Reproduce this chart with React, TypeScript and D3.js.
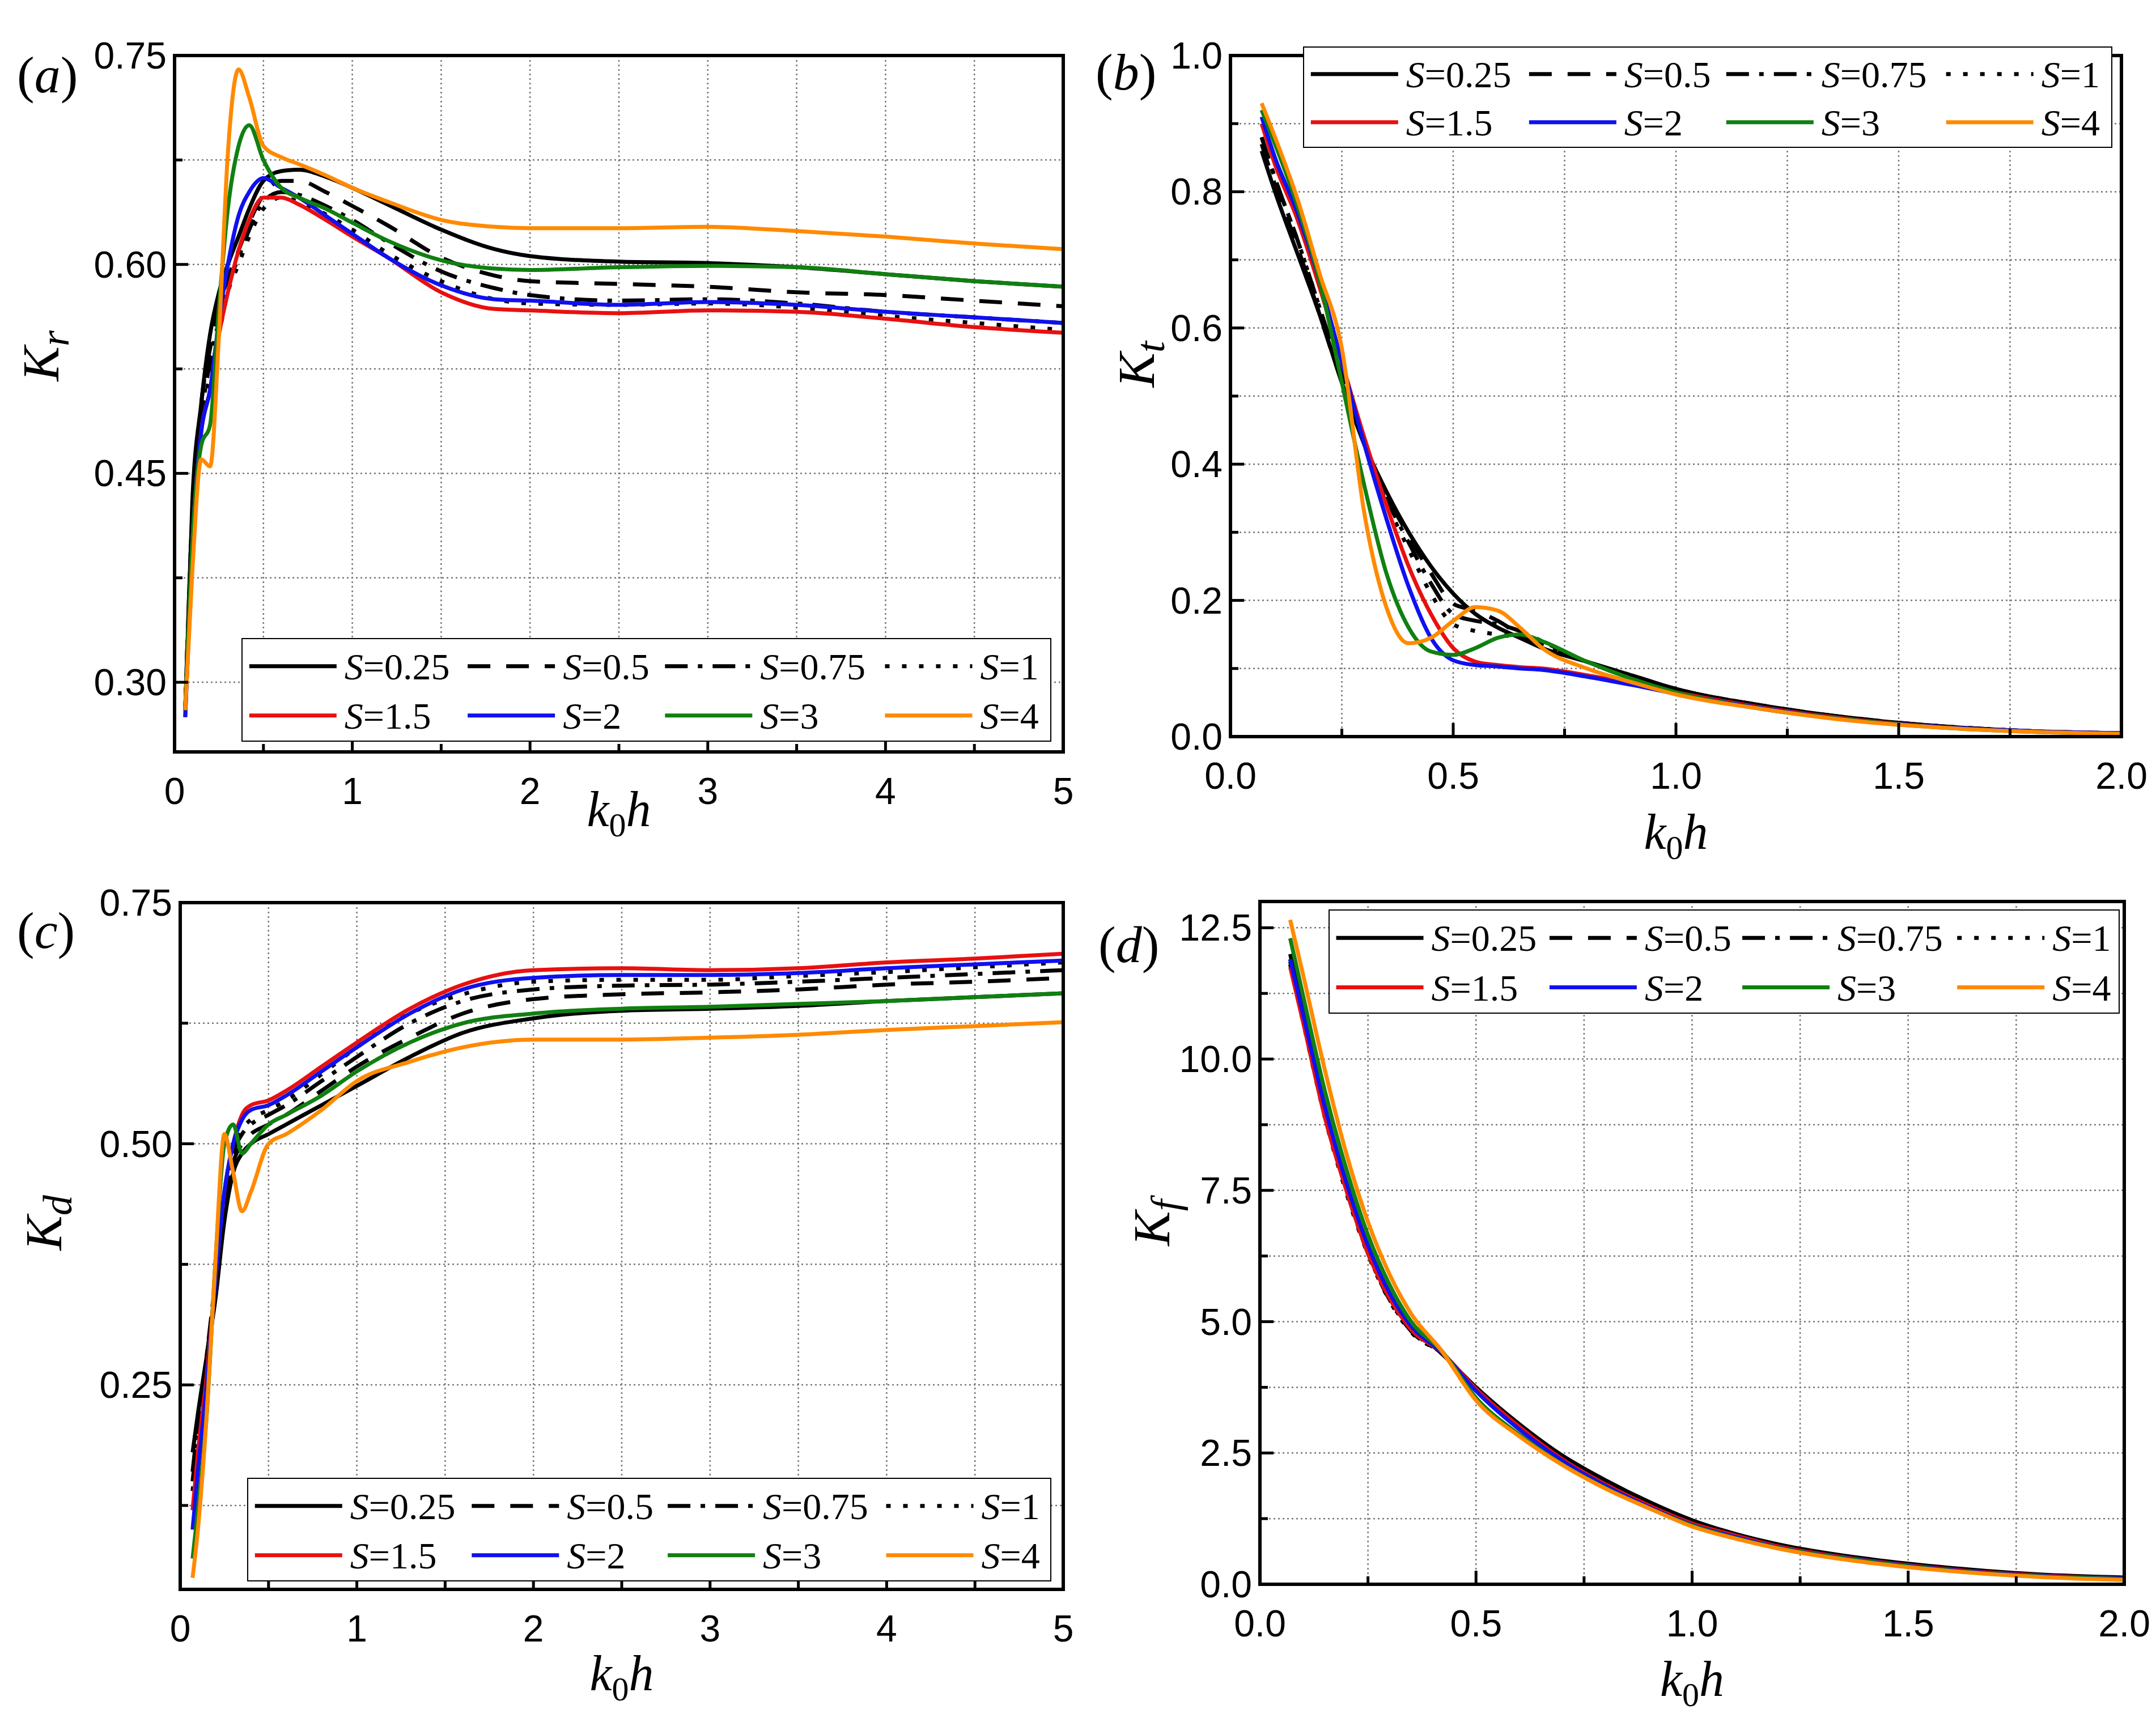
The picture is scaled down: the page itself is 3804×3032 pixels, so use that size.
import React from "react";
import * as d3 from "d3";

const labels = ["0.25", "0.5", "0.75", "1", "1.5", "2", "3", "4"];
const colors = ["#000", "#000", "#000", "#000", "#e81010", "#1010f0", "#108010", "#ff8a00"];
const dashes = ["none", "40,28", "40,18,8,18", "8,22", "none", "none", "none", "none"];

const xA = [0.06,0.1,0.15,0.2,0.25,0.3,0.36,0.42,0.5,0.6,0.7,0.85,1,1.2,1.5,1.8,2,2.5,3,3.5,4,4.5,5];
const yA = [
  [0.28,0.43,0.50,0.55,0.58,0.60,0.62,0.64,0.66,0.667,0.668,0.663,0.655,0.643,0.625,0.611,0.606,0.602,0.601,0.598,0.593,0.588,0.584],
  [0.28,0.42,0.50,0.54,0.57,0.59,0.61,0.63,0.65,0.66,0.66,0.652,0.642,0.628,0.605,0.592,0.588,0.586,0.584,0.58,0.578,0.574,0.57],
  [0.28,0.42,0.49,0.53,0.56,0.585,0.605,0.625,0.645,0.652,0.65,0.642,0.632,0.616,0.595,0.583,0.578,0.574,0.575,0.572,0.566,0.562,0.558],
  [0.28,0.41,0.49,0.52,0.55,0.58,0.60,0.62,0.64,0.648,0.645,0.636,0.625,0.608,0.588,0.575,0.572,0.571,0.572,0.569,0.563,0.558,0.553],
  [0.275,0.40,0.48,0.51,0.55,0.58,0.61,0.632,0.648,0.648,0.643,0.632,0.62,0.605,0.58,0.568,0.567,0.565,0.567,0.566,0.561,0.555,0.551],
  [0.275,0.40,0.48,0.51,0.56,0.60,0.635,0.652,0.662,0.655,0.648,0.635,0.622,0.605,0.585,0.575,0.574,0.571,0.573,0.571,0.566,0.562,0.558],
  [0.28,0.40,0.47,0.485,0.57,0.64,0.685,0.70,0.675,0.655,0.648,0.64,0.63,0.617,0.603,0.597,0.596,0.598,0.599,0.598,0.593,0.588,0.584],
  [0.28,0.38,0.46,0.455,0.55,0.68,0.74,0.72,0.685,0.677,0.672,0.664,0.655,0.645,0.632,0.627,0.626,0.626,0.627,0.624,0.62,0.615,0.611],
];

const xB = [0.07,0.1,0.15,0.2,0.25,0.3,0.35,0.4,0.45,0.5,0.55,0.6,0.65,0.7,0.8,0.9,1.0,1.2,1.4,1.6,1.8,2.0];
const yB = [
  [0.86,0.80,0.71,0.62,0.52,0.43,0.36,0.30,0.25,0.21,0.18,0.16,0.145,0.13,0.11,0.09,0.07,0.045,0.027,0.015,0.008,0.005],
  [0.87,0.81,0.72,0.62,0.52,0.43,0.355,0.295,0.24,0.195,0.185,0.17,0.15,0.135,0.11,0.09,0.07,0.045,0.027,0.015,0.008,0.005],
  [0.88,0.82,0.73,0.63,0.53,0.43,0.35,0.285,0.225,0.18,0.17,0.165,0.155,0.14,0.11,0.09,0.07,0.045,0.026,0.015,0.008,0.005],
  [0.88,0.82,0.73,0.63,0.53,0.43,0.345,0.275,0.21,0.165,0.155,0.15,0.145,0.135,0.11,0.088,0.068,0.044,0.026,0.015,0.008,0.005],
  [0.90,0.84,0.76,0.66,0.55,0.44,0.34,0.25,0.18,0.13,0.11,0.105,0.102,0.10,0.09,0.078,0.065,0.042,0.025,0.014,0.008,0.005],
  [0.91,0.85,0.77,0.67,0.55,0.43,0.32,0.22,0.145,0.112,0.105,0.103,0.10,0.098,0.088,0.076,0.063,0.041,0.024,0.014,0.008,0.005],
  [0.92,0.87,0.78,0.67,0.52,0.37,0.24,0.16,0.125,0.12,0.13,0.145,0.15,0.14,0.11,0.085,0.065,0.04,0.024,0.013,0.007,0.004],
  [0.93,0.88,0.79,0.68,0.57,0.33,0.19,0.137,0.145,0.17,0.19,0.185,0.16,0.13,0.10,0.08,0.062,0.04,0.023,0.013,0.007,0.004],
];

const xC = [0.07,0.1,0.15,0.2,0.25,0.3,0.35,0.4,0.5,0.6,0.8,1,1.3,1.6,2,2.5,3,3.5,4,4.5,5];
const yC = [
  [0.18,0.22,0.28,0.34,0.42,0.47,0.49,0.50,0.51,0.52,0.54,0.56,0.59,0.615,0.63,0.638,0.64,0.643,0.648,0.652,0.656],
  [0.16,0.21,0.28,0.35,0.43,0.48,0.50,0.51,0.52,0.53,0.555,0.58,0.61,0.635,0.65,0.655,0.657,0.66,0.665,0.668,0.672],
  [0.15,0.20,0.28,0.36,0.44,0.49,0.51,0.52,0.53,0.54,0.565,0.59,0.625,0.648,0.66,0.664,0.665,0.668,0.672,0.676,0.68],
  [0.14,0.19,0.27,0.36,0.44,0.49,0.515,0.525,0.535,0.545,0.572,0.60,0.635,0.655,0.668,0.67,0.67,0.674,0.678,0.683,0.688],
  [0.12,0.18,0.26,0.36,0.45,0.50,0.53,0.54,0.545,0.555,0.58,0.605,0.64,0.665,0.68,0.682,0.68,0.682,0.688,0.692,0.697],
  [0.10,0.16,0.25,0.36,0.45,0.50,0.525,0.535,0.54,0.55,0.575,0.60,0.635,0.66,0.672,0.675,0.675,0.677,0.682,0.686,0.69],
  [0.07,0.12,0.22,0.38,0.50,0.52,0.49,0.50,0.52,0.53,0.55,0.575,0.605,0.625,0.635,0.64,0.642,0.645,0.648,0.652,0.656],
  [0.05,0.10,0.22,0.38,0.51,0.47,0.43,0.45,0.50,0.51,0.535,0.565,0.585,0.60,0.608,0.608,0.61,0.613,0.618,0.622,0.626],
];

const xD = [0.07,0.1,0.15,0.2,0.25,0.3,0.35,0.42,0.5,0.6,0.7,0.8,0.9,1.0,1.1,1.2,1.4,1.6,1.8,2.0];
const yD = [
  [12.0,10.9,9.1,7.6,6.4,5.5,4.9,4.4,3.75,3.05,2.45,1.98,1.57,1.22,0.96,0.76,0.49,0.31,0.19,0.13],
  [11.9,10.8,9.0,7.55,6.35,5.45,4.85,4.4,3.72,3.02,2.42,1.95,1.55,1.2,0.95,0.75,0.48,0.3,0.18,0.12],
  [11.85,10.75,8.95,7.5,6.3,5.42,4.82,4.4,3.7,3.0,2.4,1.93,1.53,1.19,0.94,0.74,0.47,0.29,0.18,0.12],
  [11.8,10.7,8.9,7.45,6.28,5.4,4.8,4.4,3.7,3.0,2.4,1.92,1.52,1.18,0.93,0.73,0.47,0.29,0.17,0.11],
  [11.75,10.7,8.9,7.5,6.3,5.45,4.85,4.42,3.72,3.0,2.38,1.9,1.5,1.16,0.93,0.72,0.46,0.28,0.17,0.11],
  [11.9,10.85,9.1,7.65,6.45,5.55,4.92,4.42,3.68,2.95,2.35,1.87,1.47,1.13,0.9,0.7,0.45,0.27,0.16,0.11],
  [12.3,11.2,9.4,7.9,6.65,5.7,5.0,4.45,3.55,2.85,2.28,1.83,1.45,1.12,0.88,0.69,0.44,0.26,0.15,0.1],
  [12.65,11.6,9.8,8.2,6.9,5.9,5.15,4.45,3.5,2.82,2.27,1.82,1.45,1.1,0.87,0.68,0.42,0.25,0.14,0.08],
];

const SANS = "'Liberation Sans', Arial, sans-serif";
const SERIF = "'Liberation Serif', 'Times New Roman', serif";

type P = {
  box: [number, number, number, number];
  xd: [number, number]; yd: [number, number];
  xt: number[]; yt: number[]; xg: number; yg: number;
  xf: (v: number) => string; yf: (v: number) => string;
  xs: number[]; ys: number[][];
  leg: [number, number, number, number];
  tag: string; tagPos: [number, number];
  sub: string; ylPos: [number, number]; xlY: number;
};

const panels: P[] = [
  { box: [300, 1868, 90, 1319], xd: [0, 5], yd: [0.25, 0.75], xt: [0,1,2,3,4,5], yt: [0.3,0.45,0.6,0.75], xg: 0.5, yg: 0.075,
    xf: d3.format("d"), yf: d3.format(".2f"), xs: xA, ys: yA, leg: [419, 1119, 1846, 1300], tag: "a", tagPos: [22, 155], sub: "r", ylPos: [95, 620], xlY: 1450 },
  { box: [2163, 3735, 90, 1292], xd: [0, 2], yd: [0, 1], xt: [0,0.5,1,1.5,2], yt: [0,0.2,0.4,0.6,0.8,1.0], xg: 0.25, yg: 0.1,
    xf: d3.format(".1f"), yf: d3.format(".1f"), xs: xB, ys: yB, leg: [2292, 75, 3718, 252], tag: "b", tagPos: [1925, 150], sub: "t", ylPos: [2028, 635], xlY: 1490 },
  { box: [310, 1868, 1585, 2797], xd: [0, 5], yd: [0.038, 0.75], xt: [0,1,2,3,4,5], yt: [0.25,0.5,0.75], xg: 0.5, yg: 0.125,
    xf: d3.format("d"), yf: d3.format(".2f"), xs: xC, ys: yC, leg: [429, 2601, 1846, 2782], tag: "c", tagPos: [22, 1665], sub: "d", ylPos: [100, 2150], xlY: 2975 },
  { box: [2215, 3740, 1583, 2788], xd: [0, 2], yd: [0, 13], xt: [0,0.5,1,1.5,2], yt: [0,2.5,5,7.5,10,12.5], xg: 0.25, yg: 1.25,
    xf: d3.format(".1f"), yf: d3.format(".1f"), xs: xD, ys: yD, leg: [2337, 1598, 3731, 1780], tag: "d", tagPos: [1930, 1690], sub: "f", ylPos: [2055, 2150], xlY: 2985 },
];

function range(a: number, b: number, s: number) {
  const r: number[] = [];
  for (let v = a; v <= b + 1e-9; v += s) r.push(+v.toFixed(6));
  return r;
}

function Panel({ p }: { p: P }) {
  const [L, R, T, B] = p.box;
  const x = d3.scaleLinear().domain(p.xd).range([L, R]);
  const y = d3.scaleLinear().domain(p.yd).range([B, T]);
  const gx = range(p.xd[0], p.xd[1], p.xg);
  const gy = range(Math.ceil(p.yd[0] / p.yg) * p.yg, p.yd[1], p.yg);
  const line = d3.line<number>().x((_, i) => x(p.xs[i])).y((v) => y(v)).curve(d3.curveMonotoneX);
  const [lx0, ly0, lx1, ly1] = p.leg;
  const lw = lx1 - lx0, lh = ly1 - ly0;
  const colOff = [0.009, 0.279, 0.523, 0.795];
  return (
    <g>
      <defs>
        <clipPath id={"clip" + p.tag}><rect x={L} y={T} width={R - L} height={B - T} /></clipPath>
      </defs>
      {gx.map((v) => <line key={"gx" + v} x1={x(v)} x2={x(v)} y1={T} y2={B} stroke="#777" strokeWidth={2.5} strokeDasharray="3,5" />)}
      {gy.map((v) => <line key={"gy" + v} x1={L} x2={R} y1={y(v)} y2={y(v)} stroke="#777" strokeWidth={2.5} strokeDasharray="3,5" />)}
      <g clipPath={`url(#clip${p.tag})`}>
        {p.ys.map((s, i) => (
          <path key={i} d={line(s) || ""} fill="none" stroke={colors[i]} strokeWidth={7} strokeDasharray={dashes[i]} strokeLinejoin="round" />
        ))}
      </g>
      {gx.map((v, i) => <line key={"tx" + v} x1={x(v)} x2={x(v)} y1={B} y2={B - (i % 2 === 0 ? 24 : 14)} stroke="#000" strokeWidth={5} />)}
      {gy.map((v) => <line key={"ty" + v} x1={L} x2={L + (p.yt.some((t) => Math.abs(t - v) < 1e-6) ? 24 : 14)} y1={y(v)} y2={y(v)} stroke="#000" strokeWidth={5} />)}
      <rect x={L} y={T} width={R - L} height={B - T} fill="none" stroke="#000" strokeWidth={6} />
      {p.xt.map((v) => (
        <text key={"xl" + v} x={x(v)} y={B + 92} textAnchor="middle" fontFamily={SANS} fontSize={66}>{p.xf(v)}</text>
      ))}
      {p.yt.map((v) => (
        <text key={"yl" + v} x={L - 14} y={y(v) + 23} textAnchor="end" fontFamily={SANS} fontSize={66}>{p.yf(v)}</text>
      ))}
      <text x={(L + R) / 2} y={p.xlY} textAnchor="middle" fontFamily={SERIF} fontStyle="italic" fontSize={88}>
        k<tspan fontStyle="normal" fontSize={60} dy={18}>0</tspan><tspan dy={-18}>h</tspan>
      </text>
      <text transform={`translate(${p.ylPos[0]},${p.ylPos[1]}) rotate(-90)`} textAnchor="middle" fontFamily={SERIF} fontStyle="italic" fontSize={92}>
        K<tspan fontSize={72} dy={18}>{p.sub}</tspan>
      </text>
      <text x={p.tagPos[0]} y={p.tagPos[1]} fontFamily={SERIF} fontSize={92}>
        (<tspan fontStyle="italic">{p.tag}</tspan>)
      </text>
      <rect x={lx0} y={ly0} width={lw} height={lh} fill="#fff" stroke="#000" strokeWidth={2} />
      {labels.map((lab, i) => {
        const cx = lx0 + colOff[i % 4] * lw;
        const cy = ly0 + (i < 4 ? 0.27 : 0.75) * lh;
        return (
          <g key={"lg" + i}>
            <line x1={cx} x2={cx + 154} y1={cy} y2={cy} stroke={colors[i]} strokeWidth={7} strokeDasharray={dashes[i]} />
            <text x={cx + 168} y={cy + 23} fontFamily={SERIF} fontSize={66}>
              <tspan fontStyle="italic">S</tspan>={lab}
            </text>
          </g>
        );
      })}
    </g>
  );
}

export default function App() {
  return (
    <svg width={3804} height={3032} viewBox="0 0 3804 3032" style={{ display: "block", background: "#fff" }}>
      <rect width={3804} height={3032} fill="#fff" />
      {panels.map((p) => <Panel key={p.tag} p={p} />)}
    </svg>
  );
}
